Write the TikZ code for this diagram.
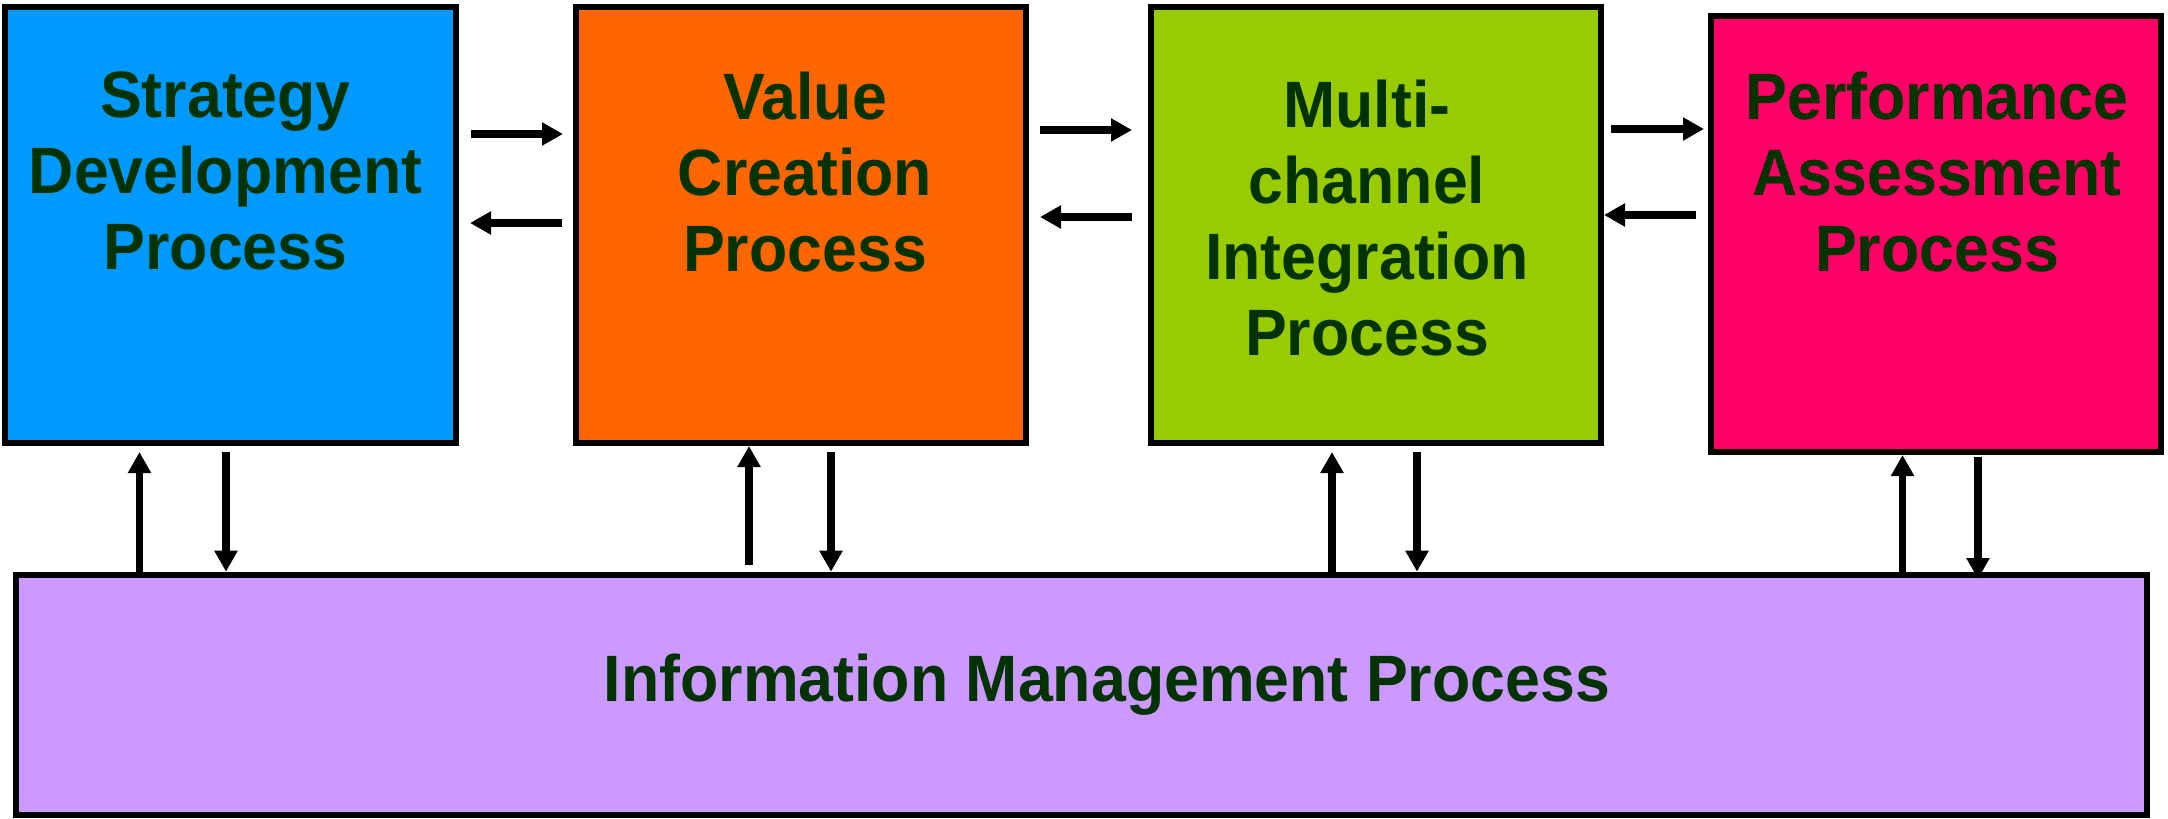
\documentclass[tikz,border=0pt]{standalone}
\usepackage{fontspec}
\setmainfont{Liberation Sans}
\newfontfamily\labfont[FakeStretch=0.955]{Liberation Sans}
\usetikzlibrary{arrows.meta,calc}
\definecolor{sdpblue}{HTML}{0099FF}
\definecolor{vcporange}{HTML}{FF6600}
\definecolor{mipgreen}{HTML}{99CC00}
\definecolor{pappink}{HTML}{FF0066}
\definecolor{imppurple}{HTML}{CC99FF}
\definecolor{labgreen}{HTML}{003300}
\begin{document}
\begin{tikzpicture}[x=0.5pt,y=-0.5pt,
  proc/.style={draw=black, line width=3pt, inner sep=0pt, outer sep=0pt},
  lab/.style={text=labgreen, font=\labfont\bfseries\fontsize{32.8pt}{38pt}\selectfont,
    align=center, inner sep=0pt, outer sep=0pt, anchor=north},
  arr/.style={line width=3.6pt, line cap=butt, -{Triangle[length=10.5pt,width=11pt]}}]
\fill[white] (0,0) rectangle (2168,819);
\useasboundingbox (0,0) rectangle (2168,819);

% boxes
\node[proc, fill=sdpblue, minimum width=225.5pt, minimum height=218pt] (sdp) at (230.5,225) {};
\node[proc, fill=vcporange, minimum width=225pt, minimum height=218pt] (vcp) at (800.6,225) {};
\node[proc, fill=mipgreen, minimum width=225pt, minimum height=218pt] (mip) at (1376,225) {};
\node[proc, fill=pappink, minimum width=225.25pt, minimum height=218.2pt] (pap) at (1935.75,233.8) {};
\node[proc, fill=imppurple, minimum width=1065.55pt, minimum height=120pt] (imp) at (1081.15,694.7) {};

% labels
\node[lab] (sdpt) at (225.5,71.5) {Strategy\\Development\\Process};
\node[lab] (vcpt) at (805,71.5) {Value\\Creation\\Process};
\node[lab] (mipt) at (1367,79.5) {Multi-\\channel\\Integration\\Process};
\node[lab] (papt) at (1937,71.5) {Performance\\Assessment\\Process};
\node[lab, anchor=base] (impt) at (1107,701) {Information Management Process};

% horizontal arrows
\draw[arr] ($(sdp.north east)+(15,127)$) -- ($(vcp.north west)+(-12.6,127)$);
\draw[arr] ($(vcp.north west)+(-13.6,216)$) -- ($(sdp.north east)+(14,216)$);
\draw[arr] ($(vcp.north east)+(14.4,123)$) -- ($(mip.north west)+(-19,123)$);
\draw[arr] ($(mip.north west)+(-19,210)$) -- ($(vcp.north east)+(14.4,210)$);
\draw[arr] ($(mip.north east)+(10,122)$) -- ($(pap.north west)+(-6.5,113.4)$);
\draw[arr] ($(pap.north west)+(-14.5,199.4)$) -- ($(mip.north east)+(3,208)$);

% vertical arrows
\draw[arr] ($(imp.north west)+(123.9,0)$) -- ($(sdp.south west)+(134.5,9)$);
\draw[arr] ($(sdp.south west)+(221,9)$) -- ($(imp.north west)+(210.4,-3)$);
\draw[arr] ($(imp.north west)+(733.4,-9.7)$) -- ($(vcp.south west)+(173.4,3)$);
\draw[arr] ($(vcp.south west)+(255.4,9)$) -- ($(imp.north west)+(815.4,-3)$);
\draw[arr] ($(imp.north west)+(1316.4,0)$) -- ($(mip.south west)+(181,9)$);
\draw[arr] ($(mip.south west)+(266,9)$) -- ($(imp.north west)+(1401.4,-3)$);
\draw[arr] ($(imp.north west)+(1886.9,0)$) -- ($(pap.south west)+(192,3)$);
\draw[arr] ($(pap.south west)+(267.5,4.7)$) -- ($(imp.north west)+(1962.4,4.3)$);
\end{tikzpicture}
\end{document}
